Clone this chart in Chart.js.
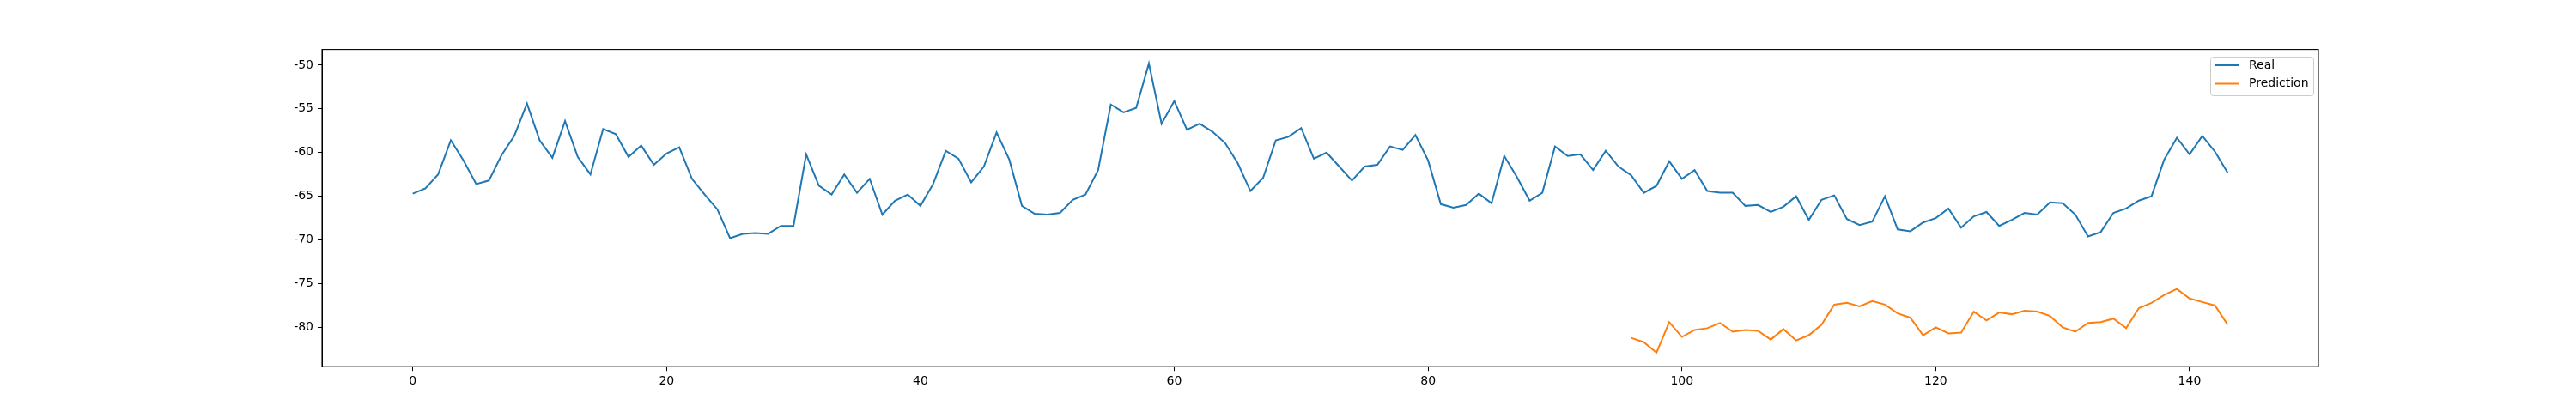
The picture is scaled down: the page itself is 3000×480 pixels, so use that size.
<!DOCTYPE html>
<html><head><meta charset="utf-8">
<script src="https://cdn.jsdelivr.net/npm/chart.js@4"></script>
<style>html,body{margin:0;padding:0;background:#fff}</style>
</head><body>
<canvas id="c" width="3000" height="480"></canvas>
<script>
const realValues = [-64.7,-64.1,-62.5,-58.6,-60.9,-63.6,-63.2,-60.3,-58.1,-54.4,-58.6,-60.6,-56.4,-60.5,-62.5,-57.3,-57.9,-60.5,-59.2,-61.4,
-60.1,-59.4,-63.0,-64.8,-66.5,-69.8,-69.3,-69.2,-69.3,-68.4,-68.4,-60.2,-63.8,-64.8,-62.5,-64.6,-63.0,-67.1,-65.5,-64.8,
-66.1,-63.6,-59.8,-60.7,-63.4,-61.6,-57.7,-60.8,-66.1,-67.0,-67.1,-66.9,-65.4,-64.8,-62.0,-54.5,-55.4,-54.9,-49.8,-56.7,
-54.1,-57.4,-56.7,-57.6,-58.9,-61.2,-64.4,-62.9,-58.6,-58.2,-57.2,-60.7,-60.0,-61.6,-63.2,-61.6,-61.4,-59.3,-59.7,-58.0,
-60.9,-65.9,-66.3,-66.0,-64.7,-65.8,-60.4,-62.8,-65.5,-64.6,-59.3,-60.4,-60.2,-62.0,-59.8,-61.6,-62.6,-64.6,-63.8,-61.0,
-63.0,-62.0,-64.4,-64.6,-64.6,-66.1,-66.0,-66.8,-66.2,-65.0,-67.7,-65.4,-64.9,-67.6,-68.3,-67.9,-65.0,-68.8,-69.0,-68.0,
-67.5,-66.4,-68.6,-67.3,-66.8,-68.4,-67.7,-66.9,-67.1,-65.7,-65.8,-67.1,-69.6,-69.1,-66.9,-66.4,-65.5,-65.0,-60.8,-58.3,
-60.2,-58.1,-59.9,-62.3];
const predStart = 96;
const predValues = [-81.2,-81.7,-82.9,-79.4,-81.1,-80.3,-80.1,-79.5,-80.5,-80.3,-80.4,-81.4,-80.2,-81.5,-80.9,-79.7,-77.4,-77.2,-77.6,-77.0,
-77.4,-78.4,-78.9,-80.9,-80.0,-80.7,-80.6,-78.2,-79.2,-78.3,-78.5,-78.1,-78.2,-78.7,-80.0,-80.5,-79.5,-79.4,-79.0,-80.1,
-77.8,-77.2,-76.3,-75.6,-76.7,-77.1,-77.5,-79.7];
const xTicks = [0,20,40,60,80,100,120,140];
const yTicks = [-80,-75,-70,-65,-60,-55,-50];
const seriesNames = ['Real','Prediction'];

const F = "'DejaVu Sans', sans-serif";
const frame = {
  id:'frame',
  afterDraw(ch){
    const c=ch.ctx, a=ch.chartArea;
    c.save();
    c.strokeStyle='#000'; c.lineWidth=1.1;
    c.strokeRect(a.left,a.top,a.right-a.left,a.bottom-a.top);
    // legend
    const bx=2574, by=66, bw=120, bh=45;
    c.fillStyle='rgba(255,255,255,0.8)'; c.strokeStyle='#cccccc'; c.lineWidth=1;
    c.beginPath(); c.roundRect(bx+0.5,by+0.5,bw,bh,3); c.fill(); c.stroke();
    const cols=['#1f77b4','#ff7f0e'];
    c.font='14px '+F; c.textBaseline='middle'; c.fillStyle='#000';
    seriesNames.forEach((n,i)=>{
      const y=by+10+i*21.5;
      c.strokeStyle=cols[i]; c.lineWidth=2;
      c.beginPath(); c.moveTo(bx+5,y); c.lineTo(bx+34,y); c.stroke();
      c.fillStyle='#000'; c.fillText(n,bx+45,y);
    });
    c.restore();
  }
};
new Chart(document.getElementById('c'),{
  type:'line',
  data:{datasets:[
    {label:seriesNames[0],data:realValues.map((v,i)=>({x:i,y:v})),borderColor:'#1f77b4',borderWidth:2,pointRadius:0,tension:0,fill:false},
    {label:seriesNames[1],data:predValues.map((v,i)=>({x:predStart+i,y:v})),borderColor:'#ff7f0e',borderWidth:2,pointRadius:0,tension:0,fill:false}
  ]},
  options:{
    responsive:false,animation:false,devicePixelRatio:1,
    layout:{padding:{left:0,right:300,top:57.6,bottom:0}},
    plugins:{legend:{display:false},tooltip:{enabled:false}},
    scales:{
      x:{type:'linear',min:-7.15,max:150.15,
        afterBuildTicks(s){s.ticks=xTicks.map(v=>({value:v}));},
        afterFit(s){s.height=52.8;},
        grid:{drawOnChartArea:false,tickLength:5,color:'#000'},
        border:{color:'#000'},
        ticks:{color:'#000',font:{family:F,size:14},padding:4,maxRotation:0}},
      y:{type:'linear',min:-84.5,max:-48.2,
        afterBuildTicks(s){s.ticks=yTicks.map(v=>({value:v}));},
        afterFit(s){s.width=375;},
        grid:{drawOnChartArea:false,tickLength:5,color:'#000'},
        border:{color:'#000'},
        ticks:{color:'#000',font:{family:F,size:14},padding:5}}
    }
  },
  plugins:[frame]
});
</script>
</body></html>
